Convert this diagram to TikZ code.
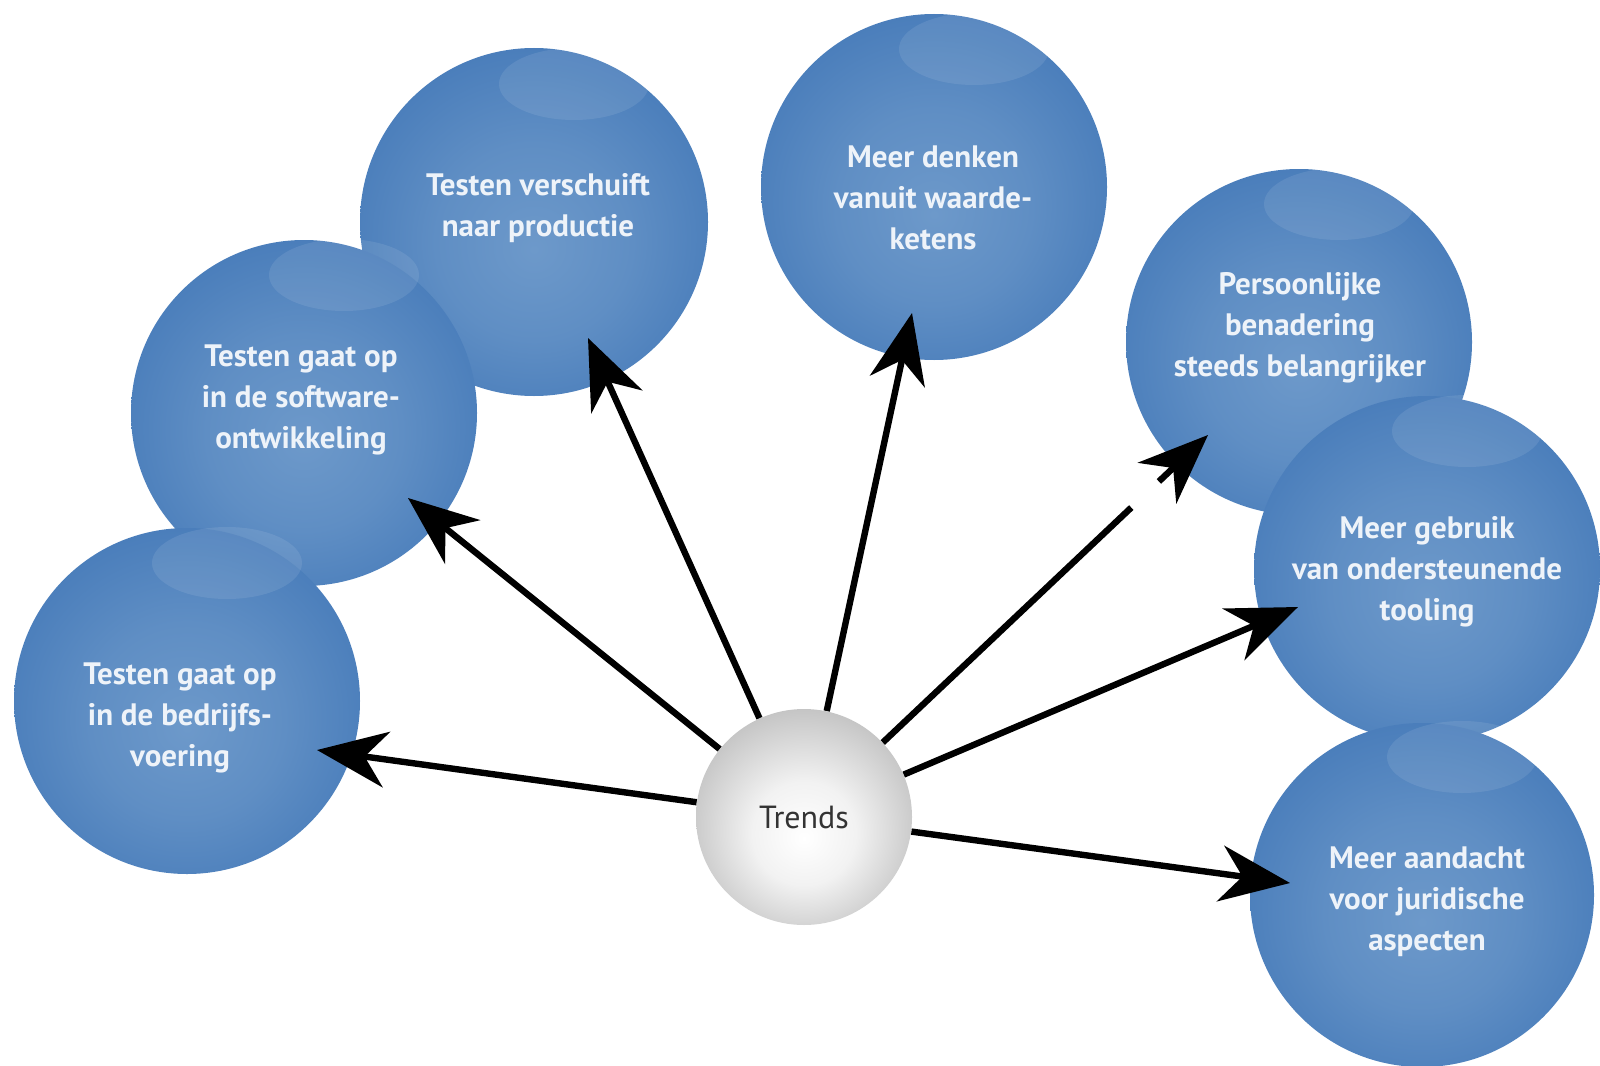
\documentclass[tikz,border=0pt]{standalone}
\usepackage{fontspec}
\setmainfont{PT Sans}
\usetikzlibrary{arrows.meta}
\definecolor{bl}{HTML}{6D99CA}
\definecolor{bm}{HTML}{3F75B6}
\definecolor{bd}{HTML}{235BA0}
\definecolor{gl}{HTML}{FFFFFF}
\definecolor{gm}{HTML}{BDBDBD}
\definecolor{gd}{HTML}{6E6E6E}
\definecolor{txt}{HTML}{EEF3F9}
\pgfdeclareradialshading{bluesphere}{\pgfpoint{0bp}{-4bp}}{color(0bp)=(bl); color(14bp)=(bl!70!bm); color(34bp)=(bm); color(46bp)=(bm!60!bd); color(50bp)=(bd)}
\pgfdeclareradialshading{graysphere}{\pgfpoint{0bp}{-5bp}}{color(0bp)=(gl); color(12bp)=(gl!80!gm); color(30bp)=(gm); color(44bp)=(gm!55!gd); color(50bp)=(gd)}
\newcommand\myhl[1]{\fill[white,opacity=0.09] ([shift={(40,-138)}]#1.center) ellipse [x radius=37.5pt, y radius=18pt];}
\begin{document}
\begin{tikzpicture}[x=0.5pt,y=-0.5pt,
  ball/.style={circle, inner sep=0pt, minimum size=173pt, shading=bluesphere, draw=none},
  lbl/.style={text=txt, align=center, font=\fontsize{15.5}{20.5}\selectfont\bfseries},
  arr/.style={line width=3.2pt, -{Stealth[length=35pt,width=28pt,inset=11pt]}}]
\useasboundingbox (0,0) rectangle (1600,1065);
\fill[white] (0,0) rectangle (1600,1065);

\node[ball, minimum size=174pt] (c3) at (534,222) {}; \myhl{c3}
\node[ball] (c2) at (304,413) {}; \myhl{c2}
\node[ball] (c1) at (187,701) {}; \myhl{c1}
\node[ball] (c4) at (934,187) {}; \myhl{c4}
\node[ball] (c5) at (1299,342) {}; \myhl{c5}
\node[ball] (c6) at (1427,569) {}; \myhl{c6}
\node[ball, minimum size=172pt] (c7) at (1422,895) {}; \myhl{c7}
\node[circle, inner sep=0pt, minimum size=108pt, shading=graysphere, text=black!80, font=\fontsize{16}{20.5}\selectfont] (t) at (804,817) {Trends};

\node[lbl] (t1) at (180,718) {Testen gaat op\\in de bedrijfs-\\voering};
\node[lbl] (t2) at (301,400) {Testen gaat op\\in de software-\\ontwikkeling};
\node[lbl] (t3) at (538,208) {Testen verschuift\\naar productie};
\node[lbl] (t4) at (933,198) {Meer denken\\vanuit waarde-\\ketens};
\node[lbl] (t5) at (1300,328) {Persoonlijke\\benadering\\steeds belangrijker};
\node[lbl] (t6) at (1427,572) {Meer gebruik\\van ondersteunende\\tooling};
\node[lbl] (t7) at (1427,902) {Meer aandacht\\voor juridische\\aspecten};

\coordinate (a1) at (317,750);
\coordinate (a2) at (408,498);
\coordinate (a3) at (588,338);
\coordinate (a4) at (912,313);
\coordinate (a5) at (1208,435);
\coordinate (a6) at (1298,607);
\coordinate (a7) at (1290,883);

\draw[arr] (t) -- (a1);
\draw[arr] (t) -- (a2);
\draw[arr] (t) -- (a3);
\draw[arr] (t) -- (a4);
\draw[arr, dash pattern=on 171pt off 19pt on 200pt] (t) -- (a5);
\draw[arr] (t) -- (a6);
\draw[arr] (t) -- (a7);
\end{tikzpicture}
\end{document}
